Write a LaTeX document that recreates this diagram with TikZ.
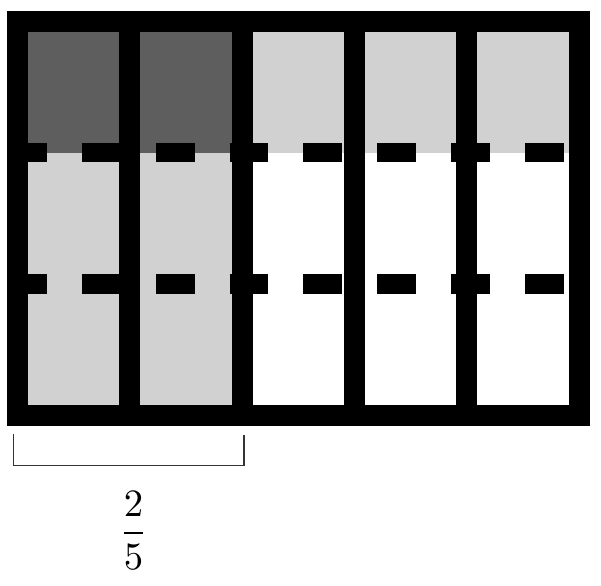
\documentclass[tikz,border=0pt]{standalone}
\begin{document}
\begin{tikzpicture}[x=2.246cm, y=2.623cm,
    frame/.style={line width=0.42cm},
    fold/.style={line width=0.39cm, dash pattern=on 0.776cm off 0.701cm},
    brace/.style={line width=0.85pt, black!80}]
  \useasboundingbox (-0.35cm,-3.4cm) rectangle (11.67cm,8.3cm);

  % Shaded cells
  \fill[black!18] (2,2) rectangle (5,3);
  \fill[black!18] (0,0) rectangle (2,2);
  \fill[black!63] (0,2) rectangle (2,3);

  % Dashed fold lines
  \foreach \y in {1,2}
    \draw[fold] ([xshift=-0.19cm]0,\y) -- ([xshift=0.19cm]5,\y);

  % Column dividers
  \foreach \x in {1,...,4}
    \draw[frame] (\x,0) -- (\x,3);

  % Outer frame
  \draw[frame] (0,0) rectangle (5,3);

  % Bracket under the shaded columns
  \coordinate (bl) at (-0.08cm,-0.37cm);
  \coordinate (br) at (4.53cm,-0.39cm);
  \draw[brace] (bl) -- (bl |- 0,-1.01cm) -- (br |- 0,-1.01cm) -- (br);
  \node[scale=2.2, transform shape] (frac) at (2.32cm,-2.31cm)
    {$\displaystyle\frac{2}{5}$};
\end{tikzpicture}
\end{document}
